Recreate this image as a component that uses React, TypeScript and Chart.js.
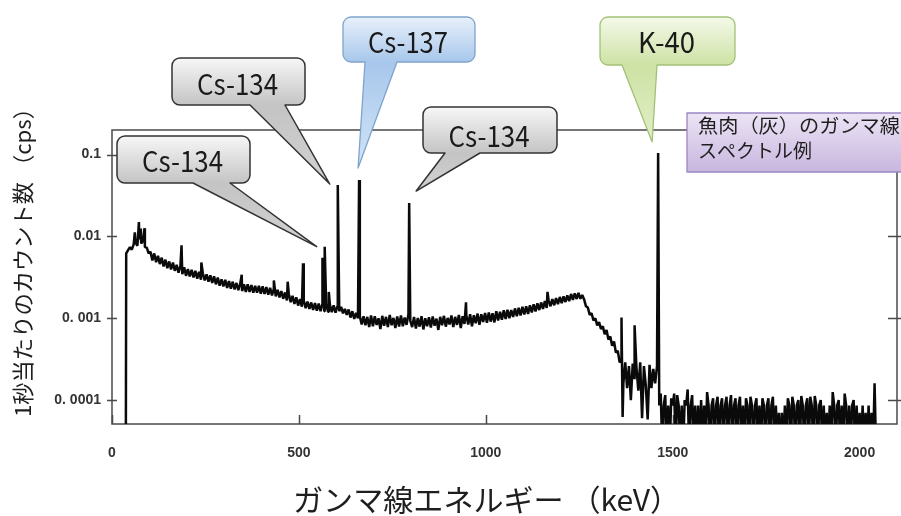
import { useEffect, useRef } from "react";
import { Chart, registerables } from "chart.js";

Chart.register(...registerables);

// ---------- axes ----------
const X_MIN_KEV = 0;
const X_MAX_KEV = 2100;
const Y_MIN_CPS = 5.1e-5;
const Y_MAX_CPS = 0.2;
const xTickValues = [0, 500, 1000, 1500, 2000];
const xTickLabels = ["0", "500", "1000", "1500", "2000"];
const yTickValues = [1e-4, 1e-3, 1e-2, 1e-1];
const yTickLabels = ["0. 0001", "0. 001", "0.01", "0.1"];

const xAxisTitle = "ガンマ線エネルギー （keV）";
const yAxisTitle = "1秒当たりのカウント数 （cps）";
const sampleLabelLines = ["魚肉（灰）のガンマ線", "スペクトル例"];

// ---------- spectrum (cps per channel) ----------
// threshold edge
const edgeKeV = [37];
const edgeCps = [0];

// 38 - 98 keV, 5 keV bins
const regionAStart = 38;
const regionABin = 5;
const regionACps = [62e-4, 68e-4, 74e-4, 69e-4, 80e-4, 84e-4, 77e-4, 92e-4, 82e-4, 88e-4, 74e-4, 73e-4, 62e-4];

// 103 - 598 keV, 5 keV bins
const regionBStart = 103;
const regionBBin = 5;
const regionBCps = [
  65e-4, 51e-4, 62e-4, 48.5e-4, 58e-4, 46e-4, 55e-4, 43e-4, 52e-4, 41e-4,
  49.5e-4, 39.5e-4, 48e-4, 38e-4, 45e-4, 36e-4, 43.5e-4, 34.5e-4, 42e-4, 33e-4,
  40e-4, 32.5e-4, 39e-4, 31.5e-4, 38e-4, 30.5e-4, 37e-4, 29.5e-4, 35.5e-4, 29e-4,
  34.5e-4, 28e-4, 33.5e-4, 27e-4, 32.5e-4, 26e-4, 31.5e-4, 25e-4, 30e-4, 24.5e-4,
  29.5e-4, 23.5e-4, 28.5e-4, 23e-4, 28e-4, 22.5e-4, 27e-4, 22e-4, 26.5e-4, 21.5e-4,
  26e-4, 21e-4, 26e-4, 21e-4, 25.5e-4, 20.5e-4, 25e-4, 20.5e-4, 25e-4, 20e-4,
  24.5e-4, 19.8e-4, 24e-4, 19.4e-4, 23.5e-4, 19e-4, 23e-4, 18.5e-4, 22.3e-4, 18e-4,
  21.5e-4, 17.3e-4, 20.7e-4, 16.5e-4, 19.8e-4, 15.7e-4, 18.8e-4, 15e-4, 18e-4, 14.3e-4,
  17.2e-4, 13.8e-4, 16.5e-4, 13.3e-4, 16e-4, 13e-4, 15.6e-4, 12.6e-4, 15.3e-4, 12.4e-4,
  15.1e-4, 12.2e-4, 15e-4, 12.2e-4, 14.9e-4, 12e-4, 14.6e-4, 11.9e-4, 14.4e-4, 11.7e-4,
];

// 603 - 1258 keV, 5 keV bins
const regionCStart = 603;
const regionCBin = 5;
const regionCCps = [
  14e-4, 12.2e-4, 13.8e-4, 11.5e-4, 13e-4, 11e-4, 12.8e-4, 10.2e-4, 12.2e-4, 9.8e-4,
  11.6e-4, 10e-4, 10.6e-4, 8.4e-4, 10.6e-4, 8.2e-4, 10.4e-4, 7.8e-4, 10.8e-4, 8e-4,
  10.6e-4, 8.3e-4, 10e-4, 7.4e-4, 10.7e-4, 8.1e-4, 10.4e-4, 7.8e-4, 11e-4, 8.2e-4,
  10.1e-4, 7.6e-4, 10.5e-4, 7.9e-4, 10.8e-4, 8e-4, 10.2e-4, 8.3e-4, 11.2e-4, 9.3e-4,
  7.8e-4, 10.4e-4, 7.5e-4, 10.1e-4, 7.9e-4, 10.6e-4, 7.3e-4, 10e-4, 8e-4, 10.3e-4,
  7.7e-4, 10.5e-4, 8.1e-4, 9.9e-4, 7.2e-4, 10.4e-4, 8.2e-4, 10.7e-4, 7.9e-4, 10.1e-4,
  8.4e-4, 10.8e-4, 7.8e-4, 10.4e-4, 8.3e-4, 11e-4, 7.6e-4, 10.6e-4, 8.5e-4, 10.7e-4,
  8.4e-4, 11.2e-4, 8e-4, 10.9e-4, 8.7e-4, 11.4e-4, 8.3e-4, 11.2e-4, 9e-4, 11.6e-4,
  8.8e-4, 11.8e-4, 9.1e-4, 11.5e-4, 8.9e-4, 12.2e-4, 9.4e-4, 12e-4, 9.6e-4, 12.5e-4,
  9.8e-4, 12.7e-4, 10e-4, 12.6e-4, 10.4e-4, 13.2e-4, 10.6e-4, 13.4e-4, 10.8e-4, 13.8e-4,
  11.1e-4, 14e-4, 11.3e-4, 14.4e-4, 11.8e-4, 14.8e-4, 12.1e-4, 15.2e-4, 12.6e-4, 15.6e-4,
  13e-4, 16.2e-4, 13.4e-4, 16.6e-4, 14e-4, 17.2e-4, 14.4e-4, 17.6e-4, 14.9e-4, 18.2e-4,
  15.3e-4, 18.5e-4, 15.8e-4, 19e-4, 16.2e-4, 19.8e-4, 16.8e-4, 20.2e-4, 17.2e-4, 20.4e-4,
  17.3e-4, 19.2e-4,
];

// 1263 - 1458 keV, 5 keV bins
const regionDStart = 1263;
const regionDBin = 5;
const regionDCps = [
  17e-4, 14e-4, 13.5e-4, 11e-4, 11.5e-4, 9.4e-4, 10e-4, 8.2e-4, 9e-4, 7.4e-4,
  8e-4, 6.4e-4, 7.2e-4, 5.5e-4, 6e-4, 4.6e-4, 5.2e-4, 3.8e-4, 4e-4, 2.9e-4,
  3e-4, 1.6e-4, 2.9e-4, 1.4e-4, 2.6e-4, 1.0e-4, 2.8e-4, 1.8e-4, 2.5e-4, 1.3e-4,
  2.9e-4, 0.6e-4, 2.6e-4, 1.5e-4, 0.58e-4, 2.7e-4, 1.4e-4, 2.4e-4, 1.6e-4, 2.6e-4,
];

// 1464 - 2044 keV, 4 keV bins (0 = empty channel)
const regionEStart = 1464;
const regionEBin = 4;
const regionECps = [
  0.86e-4, 1.2e-4, 0, 0.86e-4, 1.15e-4, 0, 0.86e-4, 0, 1.05e-4, 0.86e-4,
  1.2e-4, 0, 1.15e-4, 0.86e-4, 0, 0.86e-4, 0, 1.0e-4, 0.86e-4, 1.35e-4,
  0, 0.86e-4, 1.15e-4, 0, 0.86e-4, 0, 0.86e-4, 0, 1.0e-4, 0,
  0.86e-4, 0, 1.25e-4, 0.86e-4, 0, 0.86e-4, 1.05e-4, 0, 0.86e-4, 1.1e-4,
  0, 0.86e-4, 1.05e-4, 0, 0.86e-4, 1.1e-4, 0, 0.86e-4, 1.15e-4, 0,
  0.86e-4, 1.05e-4, 0, 0.86e-4, 1.1e-4, 0, 0.86e-4, 0, 1.05e-4, 0.86e-4,
  0, 1.1e-4, 0.86e-4, 0, 0.86e-4, 1.05e-4, 0, 0.86e-4, 0, 1.05e-4,
  0.86e-4, 0, 0.86e-4, 1.05e-4, 0, 0.86e-4, 1.1e-4, 0, 0.86e-4, 0,
  0.7e-4, 0, 0.7e-4, 0, 0.86e-4, 0, 1.05e-4, 0.86e-4, 0, 1.1e-4,
  0.86e-4, 0, 0.86e-4, 1.0e-4, 0, 1.12e-4, 0.86e-4, 0, 0.86e-4, 1.05e-4,
  0, 1.1e-4, 0.86e-4, 0, 1.12e-4, 0.86e-4, 0, 0.86e-4, 1.0e-4, 0,
  0.86e-4, 0, 0.7e-4, 0, 0.86e-4, 0, 1.25e-4, 0.86e-4, 0, 0.86e-4,
  1.0e-4, 0, 0.86e-4, 0, 1.2e-4, 0.86e-4, 0, 0.86e-4, 0, 0.86e-4,
  1.0e-4, 0, 0.86e-4, 0, 0.7e-4, 0, 0.86e-4, 0, 0.7e-4, 0,
  0.86e-4, 0, 0.7e-4, 0, 1.6e-4, 0,
];

// peaks and single-channel features
const featureKeV = [61, 72, 77, 87, 186, 239, 347, 433, 470, 511, 563, 569, 580, 604, 661, 795, 947, 1165, 1363, 1366, 1398, 1461];
const featureCps = [
  0.0112, 0.015, 0.0125, 0.0126, 0.0078, 0.0048, 0.0034, 0.0029, 0.0028, 0.0047,
  0.0055, 0.0075, 0.0021, 0.0425, 0.049, 0.0256, 0.00157, 0.0021, 0.00102, 0.000062,
  0.00082, 0.105,
];

// ---------- callouts (anchored to peaks) ----------
type Theme = { top: string; bottom: string; tip: string; stroke: string; lw: number };
const THEMES: Record<string, Theme> = {
  gray: { top: "#f7f7f7", bottom: "#c4c4c4", tip: "#d2d2d2", stroke: "#333333", lw: 1.5 },
  blue: { top: "#e8f0fa", bottom: "#a7c7eb", tip: "#d2e4f7", stroke: "#80a3cc", lw: 1.3 },
  green: { top: "#f5f9ea", bottom: "#cde2a4", tip: "#e2efc8", stroke: "#a2c177", lw: 1.3 },
};
const CALLOUTS = [
  { text: "Cs-134", keV: 569, dx: -8, dy: 0, box: [117, 136, 250, 183], base: [193, 230], baseline: 172, textW: 81, theme: "gray" },
  { text: "Cs-134", keV: 604, dx: -8, dy: -1, box: [172, 58, 305, 105], base: [250, 285], baseline: 95, textW: 81, theme: "gray" },
  { text: "Cs-137", keV: 661, dx: -1, dy: -12, box: [343, 17, 475, 62], base: [365, 397], baseline: 53, textW: 80, theme: "blue" },
  { text: "Cs-134", keV: 795, dx: 7, dy: -12, box: [423, 107, 557, 153], base: [445, 480], baseline: 147, textW: 81, theme: "gray" },
  { text: "K-40", keV: 1461, dx: -6, dy: -11, box: [600, 17, 735, 65], base: [622, 657], baseline: 53, textW: 57, theme: "green" },
];

type Pt = { x: number; y: number };
function bins(startKeV: number, widthKeV: number, cps: number[]): Pt[] {
  return cps.map((y, i) => ({ x: startKeV + i * widthKeV, y }));
}

function buildPoints(): Pt[] {
  const pts: Pt[] = [
    ...edgeKeV.map((x, i) => ({ x, y: edgeCps[i] })),
    ...bins(regionAStart, regionABin, regionACps),
    ...bins(regionBStart, regionBBin, regionBCps),
    ...bins(regionCStart, regionCBin, regionCCps),
    ...bins(regionDStart, regionDBin, regionDCps),
    ...bins(regionEStart, regionEBin, regionECps),
    ...featureKeV.map((x, i) => ({ x, y: featureCps[i] })),
  ];
  pts.sort((a, b) => a.x - b.x);
  // empty channels are drawn at the floor of the log axis
  return pts.map((p) => ({ x: p.x, y: p.y > 0 ? p.y : Y_MIN_CPS / 2 }));
}

const CJK = '"Noto Sans CJK JP", "Noto Sans", sans-serif';

function drawFitted(ctx: CanvasRenderingContext2D, text: string, x: number, y: number, font: string, width: number, align: CanvasTextAlign) {
  ctx.font = font;
  const w = ctx.measureText(text).width || 1;
  const s = width / w;
  ctx.save();
  ctx.translate(x, y);
  ctx.scale(s, 1);
  ctx.textAlign = align;
  ctx.fillText(text, 0, 0);
  ctx.restore();
}

function calloutPath(ctx: CanvasRenderingContext2D, x0: number, y0: number, x1: number, y1: number, r: number, bl: number, br: number, tx: number, ty: number) {
  ctx.beginPath();
  ctx.moveTo(x0 + r, y0);
  ctx.lineTo(x1 - r, y0);
  ctx.arcTo(x1, y0, x1, y0 + r, r);
  ctx.lineTo(x1, y1 - r);
  ctx.arcTo(x1, y1, x1 - r, y1, r);
  ctx.lineTo(br, y1);
  ctx.lineTo(tx, ty);
  ctx.lineTo(bl, y1);
  ctx.lineTo(x0 + r, y1);
  ctx.arcTo(x0, y1, x0, y1 - r, r);
  ctx.lineTo(x0, y0 + r);
  ctx.arcTo(x0, y0, x0 + r, y0, r);
  ctx.closePath();
}

const decorPlugin = {
  id: "decor",
  beforeDraw(chart: any) {
    const ctx: CanvasRenderingContext2D = chart.ctx;
    ctx.save();
    ctx.fillStyle = "#ffffff";
    ctx.fillRect(0, 0, chart.width, chart.height);
    ctx.restore();
  },
  beforeDatasetsDraw(chart: any) {
    const ctx: CanvasRenderingContext2D = chart.ctx;
    const { left, right, top, bottom } = chart.chartArea;
    const xs = chart.scales.x;
    const ys = chart.scales.y;
    ctx.save();
    ctx.strokeStyle = "#4a4a4a";
    ctx.lineWidth = 1.5;
    ctx.strokeRect(left, top, right - left, bottom - top);
    ctx.beginPath();
    yTickValues.forEach((v) => {
      const py = Math.round(ys.getPixelForValue(v)) + 0.5;
      ctx.moveTo(left - 5, py);
      ctx.lineTo(left + 5, py);
      ctx.moveTo(right - 9, py);
      ctx.lineTo(right + 4, py);
    });
    xTickValues.forEach((v) => {
      const px = Math.round(xs.getPixelForValue(v)) + 0.5;
      ctx.moveTo(px, bottom);
      ctx.lineTo(px, bottom - 9);
    });
    ctx.stroke();
    ctx.restore();
  },
  afterDraw(chart: any) {
    const ctx: CanvasRenderingContext2D = chart.ctx;
    const xs = chart.scales.x;
    const ys = chart.scales.y;
    ctx.save();
    ctx.fillStyle = "#1e1e1e";
    ctx.textBaseline = "middle";
    // axis titles
    drawFitted(ctx, xAxisTitle, 486.5, 500, `30px ${CJK}`, 387, "center");
    ctx.save();
    ctx.translate(23, 257);
    ctx.rotate(-Math.PI / 2);
    drawFitted(ctx, yAxisTitle, 0, 0, `22px ${CJK}`, 320, "center");
    ctx.restore();

    // callouts
    CALLOUTS.forEach((c) => {
      const th = THEMES[c.theme];
      const idx = featureKeV.indexOf(c.keV);
      const tx = xs.getPixelForValue(c.keV) + c.dx;
      const ty = ys.getPixelForValue(featureCps[idx]) + c.dy;
      const [x0, y0, x1, y1] = c.box;
      const g = ctx.createLinearGradient(0, y0, 0, ty);
      const f = (y1 - y0) / (ty - y0);
      g.addColorStop(0, th.top);
      g.addColorStop(Math.min(0.99, Math.max(0.01, f)), th.bottom);
      g.addColorStop(1, th.tip);
      calloutPath(ctx, x0, y0, x1, y1, 8, c.base[0], c.base[1], tx, ty);
      ctx.fillStyle = g;
      ctx.fill();
      ctx.lineWidth = th.lw;
      ctx.strokeStyle = th.stroke;
      ctx.lineJoin = "round";
      ctx.stroke();
      ctx.fillStyle = "#1a1a1a";
      ctx.textBaseline = "alphabetic";
      drawFitted(ctx, c.text, (x0 + x1) / 2 - 1, c.baseline, `29px ${CJK}`, c.textW, "center");
    });

    // sample label box
    const pg = ctx.createLinearGradient(0, 113, 0, 172);
    pg.addColorStop(0, "#ece4f5");
    pg.addColorStop(1, "#c8b6df");
    ctx.fillStyle = pg;
    ctx.fillRect(687, 113, 230, 59);
    ctx.strokeStyle = "#9a86c2";
    ctx.lineWidth = 1.3;
    ctx.strokeRect(687, 113, 230, 59);
    ctx.fillStyle = "#1e1e1e";
    ctx.textBaseline = "middle";
    drawFitted(ctx, sampleLabelLines[0], 698, 126, `19px ${CJK}`, 202, "left");
    ctx.font = `19px ${CJK}`;
    ctx.textAlign = "left";
    ctx.fillText(sampleLabelLines[1], 698, 151);
    ctx.restore();
  },
};

export default function App() {
  const ref = useRef<HTMLCanvasElement>(null);
  useEffect(() => {
    const canvas = ref.current;
    if (!canvas) return;
    const tickFont = { family: '"Liberation Sans", Arial, sans-serif', size: 14, weight: "bold" as const };
    const chart = new Chart(canvas, {
      type: "line",
      data: {
        datasets: [
          {
            data: buildPoints(),
            borderColor: "#0a0a0a",
            borderWidth: 2.5,
            borderJoinStyle: "bevel",
            pointRadius: 0,
            tension: 0,
            fill: false,
          },
        ],
      },
      options: {
        animation: false,
        responsive: false,
        devicePixelRatio: 1,
        events: [],
        layout: { padding: { top: 130, right: 4, left: 0, bottom: 0 } },
        plugins: { legend: { display: false }, tooltip: { enabled: false }, title: { display: false } },
        scales: {
          x: {
            type: "linear",
            min: X_MIN_KEV,
            max: X_MAX_KEV,
            grid: { display: false, drawTicks: false },
            border: { display: false },
            afterBuildTicks: (s: any) => {
              s.ticks = xTickValues.map((v) => ({ value: v }));
            },
            afterFit: (s: any) => {
              s.height = 92;
            },
            ticks: {
              padding: 21,
              maxRotation: 0,
              autoSkip: false,
              color: "#333333",
              font: tickFont,
              callback: (_v: any, i: number) => xTickLabels[i],
            },
          },
          y: {
            type: "logarithmic",
            min: Y_MIN_CPS,
            max: Y_MAX_CPS,
            grid: { display: false, drawTicks: false },
            border: { display: false },
            afterBuildTicks: (s: any) => {
              s.ticks = yTickValues.map((v) => ({ value: v }));
            },
            afterFit: (s: any) => {
              s.width = 112;
            },
            ticks: {
              padding: 11,
              autoSkip: false,
              color: "#333333",
              font: tickFont,
              callback: (_v: any, i: number) => yTickLabels[i],
            },
          },
        },
      },
      plugins: [decorPlugin],
    } as any);
    return () => chart.destroy();
  }, []);
  return (
    <div style={{ position: "fixed", left: 0, top: 0, width: 901, height: 516, background: "#fff" }}>
      <canvas ref={ref} width={901} height={516} style={{ display: "block", width: 901, height: 516 }} />
    </div>
  );
}
